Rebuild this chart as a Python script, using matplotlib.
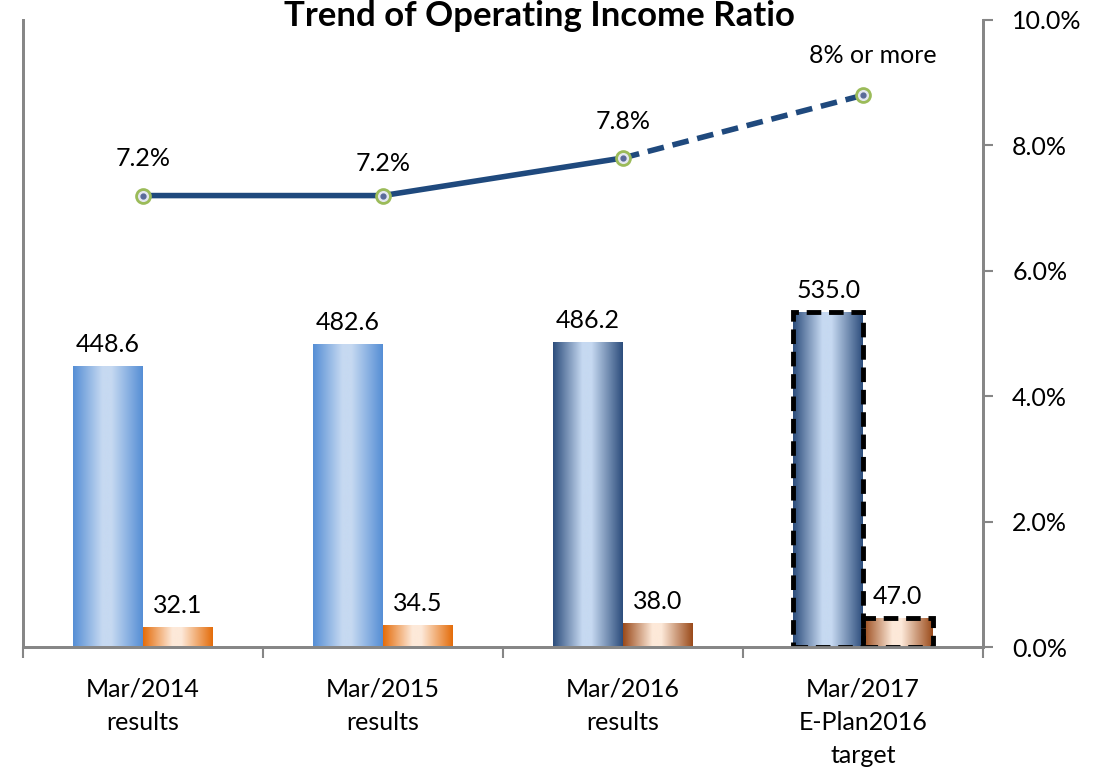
import numpy as np
import matplotlib.pyplot as plt
from matplotlib.colors import LinearSegmentedColormap

plt.rcParams['font.family'] = ['Lato', 'DejaVu Sans']

# Data
categories = ['Mar/2014\nresults', 'Mar/2015\nresults', 'Mar/2016\nresults', 'Mar/2017\nE-Plan2016\ntarget']
net_sales = [448.6, 482.6, 486.2, 535.0]
op_income = [32.1, 34.5, 38.0, 47.0]
op_ratio = [7.2, 7.2, 7.8, 8.8]
ratio_labels = ['7.2%', '7.2%', '7.8%', '8% or more']

# Bar gradient colours (edge colour -> light centre)
blue_edges = ['#558ed5', '#558ed5', '#2c4d7c', '#2c4d7c']
blue_light = '#c6d9f1'
orange_edges = ['#e46c0a', '#e46c0a', '#9a4a1a', '#9a4a1a']
orange_light = '#fde9d9'

x = np.arange(len(categories))
bar_w = 0.29
fs = 18

fig = plt.figure(figsize=(11.06, 7.69), dpi=100)
ax = fig.add_axes([0.0208, 0.1586, 0.8680, 0.8154])
ax2 = ax.twinx()


def gradient_bar(axis, xc, h, edge, light, dashed=False):
    cmap = LinearSegmentedColormap.from_list('g', [(0, edge), (0.42, light), (0.55, light), (1, edge)])
    bar = axis.bar(xc, h, bar_w, color='none', zorder=2)[0]
    grad = np.linspace(0, 1, 256).reshape(1, -1)
    im = axis.imshow(grad, cmap=cmap, aspect='auto', zorder=2,
                     extent=[xc - bar_w / 2, xc + bar_w / 2, 0, h])
    im.set_clip_path(bar)
    if dashed:
        axis.bar(xc, h, bar_w, color='none', edgecolor='black', linewidth=3.5,
                 linestyle=(0, (3, 1.6)), zorder=3)


for i in range(len(categories)):
    last = i == len(categories) - 1
    gradient_bar(ax, x[i] - bar_w / 2, net_sales[i], blue_edges[i], blue_light, dashed=last)
    gradient_bar(ax, x[i] + bar_w / 2, op_income[i], orange_edges[i], orange_light, dashed=last)
    ax.text(x[i] - bar_w / 2, net_sales[i] + 16, f'{net_sales[i]:.1f}', ha='center', va='bottom', fontsize=fs)
    ax.text(x[i] + bar_w / 2, op_income[i] + 16, f'{op_income[i]:.1f}', ha='center', va='bottom', fontsize=fs)

ax.set_xlim(-0.5, 3.5)
ax.set_ylim(0, 1000)

# Ratio line: solid for results, dashed to target
line_c = '#1f497d'
ax2.plot(x[:3], op_ratio[:3], color=line_c, linewidth=4, zorder=4)
ax2.plot(x[2:], op_ratio[2:], color=line_c, linewidth=4, linestyle=(0, (3, 1.6)), zorder=4)
ax2.plot(x, op_ratio, 'o', markersize=10, markerfacecolor='#e4e7f0', markeredgecolor='#9bbb59',
         markeredgewidth=2, zorder=5)
ax2.plot(x, op_ratio, 'o', markersize=3.5, color='#5a6a99', zorder=6)
label_off = [0.4, 0.33, 0.4, 0.45]
label_dx = [0, 0, 0, 0.04]
for i in range(len(x)):
    ax2.text(x[i] + label_dx[i], op_ratio[i] + label_off[i], ratio_labels[i], ha='center', va='bottom', fontsize=fs)
ax2.set_ylim(0, 10)
ax2.set_yticks(np.arange(0, 10.1, 2))
ax2.set_yticklabels([f'{v:.1f}%' for v in np.arange(0, 10.1, 2)], fontsize=fs)

# Axes styling
grey = '#868686'
for a in (ax, ax2):
    a.spines['top'].set_visible(False)
    for s in ('left', 'right', 'bottom'):
        a.spines[s].set_color(grey)
        a.spines[s].set_linewidth(2)
ax.set_yticks([])
ax2.tick_params(axis='y', length=7, width=1.5, color=grey, pad=14)
ax.set_xticks(x)
ax.set_xticklabels(categories, fontsize=fs, linespacing=1.55)
ax.set_xticks(np.arange(-0.5, 3.6, 1), minor=True)
ax.tick_params(axis='x', which='major', length=0, pad=22)
ax.tick_params(axis='x', which='minor', length=8, width=1.5, color=grey)

fig.text(0.488, 1.0, 'Trend of Operating Income Ratio', ha='center', va='top',
         fontsize=25, fontweight='bold')

fig.savefig('out.png', dpi=100)
